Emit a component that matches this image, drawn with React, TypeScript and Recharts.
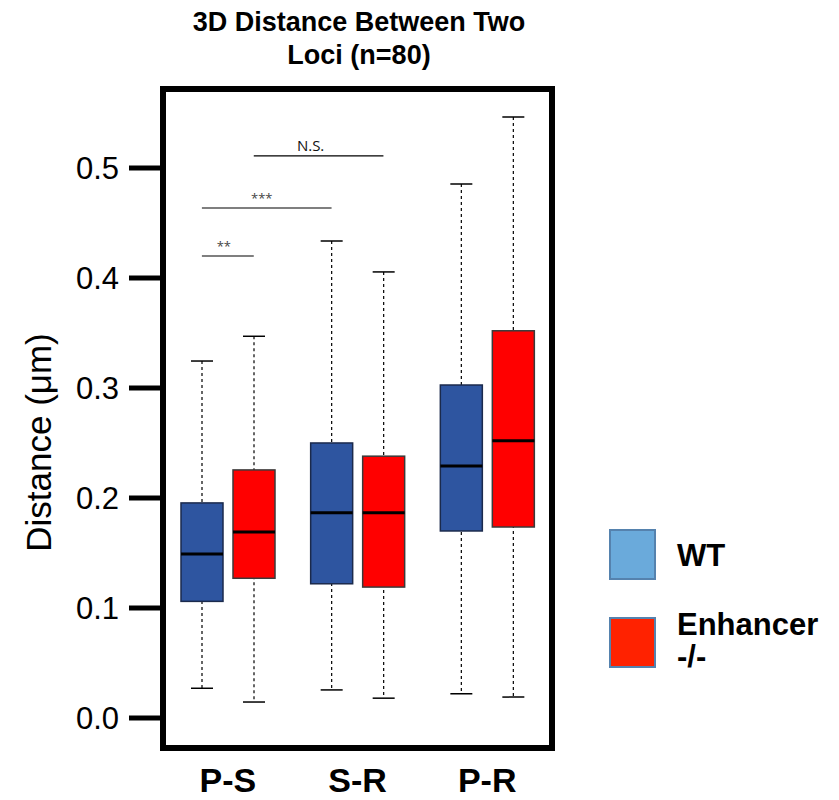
import React from 'react';
import {
  ComposedChart,
  Bar,
  XAxis,
  YAxis,
  ReferenceLine,
  ReferenceArea,
} from 'recharts';

// ---------- data ----------
const categories = ['P-S', 'S-R', 'P-R'];

const wtMin = [0.027, 0.0255, 0.022];
const wtQ1 = [0.106, 0.122, 0.17];
const wtMedian = [0.149, 0.1865, 0.229];
const wtQ3 = [0.1955, 0.25, 0.3027];
const wtMax = [0.3245, 0.4336, 0.4855];

const enhMin = [0.0145, 0.018, 0.019];
const enhQ1 = [0.127, 0.119, 0.1736];
const enhMedian = [0.169, 0.1865, 0.252];
const enhQ3 = [0.2255, 0.238, 0.352];
const enhMax = [0.347, 0.4055, 0.5464];

const yTicks = [0, 0.1, 0.2, 0.3, 0.4, 0.5];
const yDomain: [number, number] = [-0.0273, 0.5718];
const xNumDomain: [number, number] = [-0.5, 2.5];

const seriesNames = ['WT', 'Enhancer -/-'];
const legendLabels = ['WT', 'Enhancer\n-/-'];

// significance brackets: [group index, series index] start / end
const sigLabels = ['**', '***', 'N.S.'];
const sigLevels = [0.42, 0.4636, 0.511];
const sigFrom: [number, number][] = [
  [0, 0],
  [0, 0],
  [0, 1],
];
const sigTo: [number, number][] = [
  [0, 1],
  [1, 0],
  [1, 1],
];

const title = ['3D Distance Between Two', 'Loci (n=80)'];
const yLabel = 'Distance (\u03BCm)';

// ---------- derived table ----------
const data = categories.map((c, i) => ({
  category: c,
  idx: i,
  wt: [wtMin[i], wtMax[i]],
  enh: [enhMin[i], enhMax[i]],
  wtStats: { min: wtMin[i], q1: wtQ1[i], median: wtMedian[i], q3: wtQ3[i], max: wtMax[i] },
  enhStats: { min: enhMin[i], q1: enhQ1[i], median: enhMedian[i], q3: enhQ3[i], max: enhMax[i] },
}));

// ---------- styles ----------
const FONT = '"Liberation Sans", Arial, Helvetica, sans-serif';
const WT_FILL = '#2e55a0';
const WT_STROKE = '#1b2a4c';
const ENH_FILL = '#ff0000';
const ENH_STROKE = '#3a3a3a';
const LEG_WT = '#6aaadb';
const LEG_ENH = '#ff2200';
const LEG_BORDER = '#5582ae';

const CHART_W = 823;
const CHART_H = 792;
const BAR_SIZE = 42;
const BAR_GAP = 10;

const makeBoxShape = (statsKey: 'wtStats' | 'enhStats', fill: string, stroke: string) =>
  (props: any) => {
    const { x, y, width, height, payload } = props;
    if (payload == null || x == null) return <g />;
    const s = payload[statsKey];
    const top = Math.min(y, y + height);
    const h = Math.abs(height);
    const py = (v: number) => top + (h * (s.max - v)) / (s.max - s.min);
    const cx = x + width / 2;
    const capHalf = 11;
    const yq3 = py(s.q3);
    const yq1 = py(s.q1);
    const ymed = py(s.median);
    return (
      <g>
        <line x1={cx} x2={cx} y1={py(s.max)} y2={py(s.min)} stroke="#000" strokeWidth={1.2} strokeDasharray="3 3" />
        <line x1={cx - capHalf} x2={cx + capHalf} y1={py(s.max)} y2={py(s.max)} stroke="#000" strokeWidth={1.5} />
        <line x1={cx - capHalf} x2={cx + capHalf} y1={py(s.min)} y2={py(s.min)} stroke="#000" strokeWidth={1.5} />
        <rect x={x} y={yq3} width={width} height={yq1 - yq3} fill={fill} stroke={stroke} strokeWidth={1.5} />
        <line x1={x} x2={x + width} y1={ymed} y2={ymed} stroke="#000" strokeWidth={3} />
      </g>
    );
  };

const groupOffset = (seriesIdx: number) => (seriesIdx === 0 ? -0.2 : 0.2);

const YLabel = (props: any) => {
  const vb = props.viewBox || {};
  const x = (vb.x ?? 0) + 30;
  const y = (vb.y ?? 0) + (vb.height ?? 0) / 2 + 24;
  return (
    <text
      x={x}
      y={y}
      transform={`rotate(-90 ${x} ${y})`}
      textAnchor="middle"
      dominantBaseline="central"
      fontFamily={FONT}
      fontSize={35}
      fill="#000"
    >
      {yLabel}
    </text>
  );
};

const sigDx = [-4, -5, -8];
const sigFont = [13, 13, 15];
const sigColor = ['#444', '#444', '#111'];

export default function App() {
  return (
    <div style={{ position: 'relative', width: CHART_W, height: CHART_H, fontFamily: FONT }}>
      <div
        style={{
          position: 'absolute',
          left: 101,
          top: -2,
          width: 500,
          textAlign: 'center',
          fontWeight: 'bold',
          fontSize: 27,
          lineHeight: '33px',
          color: '#000',
        }}
      >
        {title.map((t) => (
          <div key={t}>{t}</div>
        ))}
      </div>

      <ComposedChart
        width={CHART_W}
        height={CHART_H}
        data={data}
        margin={{ top: 81, right: 279, bottom: 8, left: 0 }}
        barSize={BAR_SIZE}
        barGap={BAR_GAP}
      >
        <XAxis
          dataKey="category"
          axisLine={false}
          tickLine={false}
          height={44}
          tickMargin={14}
          tick={{ fontFamily: FONT, fontSize: 34, fontWeight: 'bold', fill: '#000' }}
          interval={0}
        />
        <XAxis
          xAxisId="num"
          dataKey="idx"
          type="number"
          scale="linear"
          domain={xNumDomain}
          hide
          allowDataOverflow
        />
        <YAxis
          type="number"
          domain={yDomain}
          ticks={yTicks}
          allowDataOverflow
          width={155}
          axisLine={false}
          tickLine={{ stroke: '#000', strokeWidth: 5 }}
          tickSize={34}
          tickMargin={10}
          tickFormatter={(v: number) => v.toFixed(1)}
          tick={{ fontFamily: FONT, fontSize: 31, fill: '#000' }}
          label={<YLabel />}
        />
        <ReferenceArea
          xAxisId="num"
          x1={xNumDomain[0]}
          x2={xNumDomain[1]}
          y1={yDomain[0]}
          y2={yDomain[1]}
          fill="none"
          fillOpacity={0}
          stroke="#000"
          strokeWidth={6}
          ifOverflow="visible"
        />
        <Bar
          dataKey="wt"
          name={seriesNames[0]}
          fill={WT_FILL}
          isAnimationActive={false}
          shape={makeBoxShape('wtStats', WT_FILL, WT_STROKE)}
        />
        <Bar
          dataKey="enh"
          name={seriesNames[1]}
          fill={ENH_FILL}
          isAnimationActive={false}
          shape={makeBoxShape('enhStats', ENH_FILL, ENH_STROKE)}
        />
        {sigLabels.map((lab, i) => (
          <ReferenceLine
            key={lab}
            xAxisId="num"
            segment={[
              { x: sigFrom[i][0] + groupOffset(sigFrom[i][1]), y: sigLevels[i] },
              { x: sigTo[i][0] + groupOffset(sigTo[i][1]), y: sigLevels[i] },
            ]}
            stroke="#000"
            strokeWidth={1.2}
            ifOverflow="visible"
            label={{
              value: lab,
              position: 'top',
              dx: sigDx[i],
              fontSize: sigFont[i],
              fill: sigColor[i],
              fontFamily: '"Open Sans", "DejaVu Sans", sans-serif',
            }}
          />
        ))}
      </ComposedChart>

      <div style={{ position: 'absolute', left: 601, top: 521 }}>
        {legendLabels.map((lab, i) => (
          <div key={lab} style={{ display: 'flex', alignItems: 'flex-start', height: 88 }}>
            <div
              style={{
                width: 43,
                height: 47,
                background: i === 0 ? LEG_WT : LEG_ENH,
                border: `2.5px solid ${LEG_BORDER}`,
                flexShrink: 0,
              }}
            />
            <div
              style={{
                marginLeft: 21,
                marginTop: i === 0 ? 11 : -8,
                fontWeight: 'bold',
                fontSize: 31,
                lineHeight: '32px',
                whiteSpace: 'pre',
                color: '#000',
              }}
            >
              {lab}
            </div>
          </div>
        ))}
      </div>
    </div>
  );
}
